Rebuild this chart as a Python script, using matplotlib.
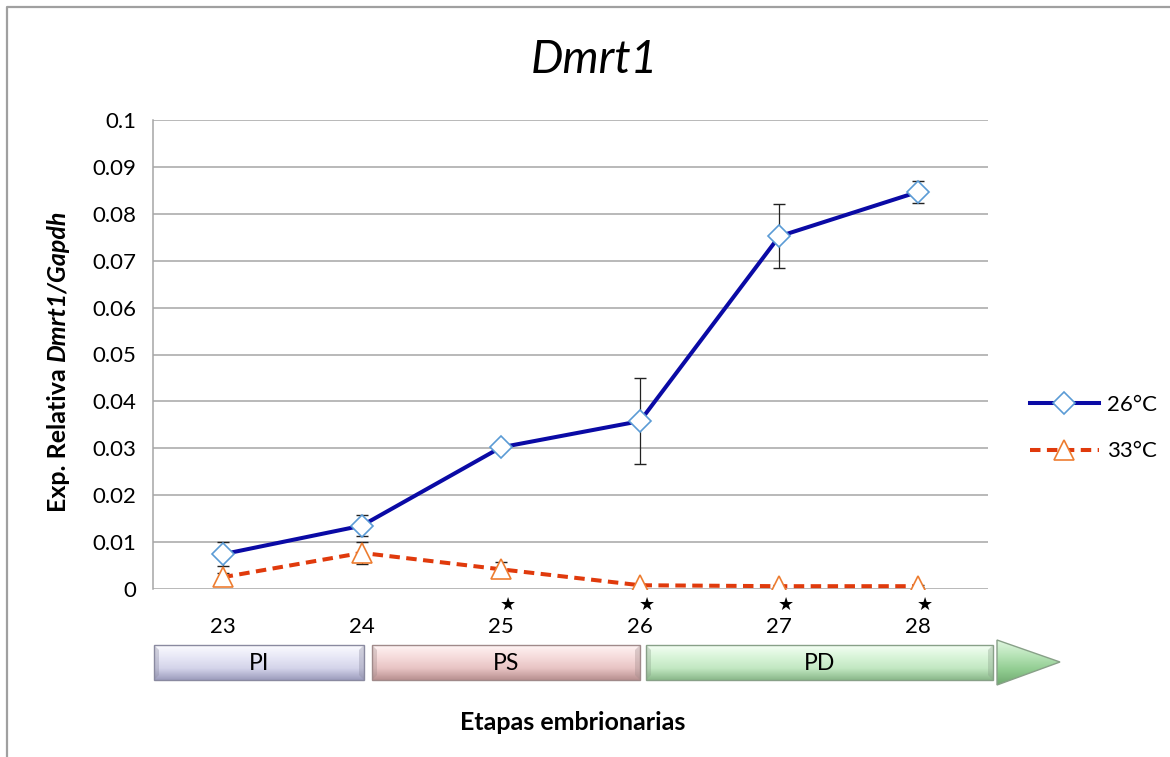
import numpy as np
import matplotlib
matplotlib.use('Agg')
import matplotlib.pyplot as plt
from matplotlib.patches import Polygon, Rectangle
from matplotlib.colors import LinearSegmentedColormap
from matplotlib.lines import Line2D
import matplotlib.transforms as mtransforms

plt.rcParams['font.family'] = ['Lato', 'DejaVu Sans']

# expression data (relative to Gapdh) per embryonic stage
stages = ['23', '24', '25', '26', '27', '28']
exp_26 = [0.0074, 0.0135, 0.0302, 0.0358, 0.0752, 0.0847]
err_26 = [0.0026, 0.0023, 0.0004, 0.0092, 0.0068, 0.0024]
exp_33 = [0.0025, 0.0077, 0.0042, 0.0008, 0.0006, 0.0006]
err_33 = [0.0009, 0.0023, 0.0016, 0.0003, 0.0002, 0.0002]
signif = [False, False, True, True, True, True]

# developmental periods shown under the axis
periods = ['PI', 'PS', 'PD']

W, H = 1170, 757
fig = plt.figure(figsize=(W / 100, H / 100), dpi=100)
ax = fig.add_axes([153 / W, 1 - 589 / H, (988 - 153) / W, (589 - 120) / H])

x = np.arange(len(stages))

ax.errorbar(x, exp_26, yerr=err_26, fmt='none', ecolor='#222222',
            elinewidth=0.9, capsize=4.5, capthick=1.0, zorder=2)
ax.errorbar(x, exp_33, yerr=err_33, fmt='none', ecolor='#222222',
            elinewidth=0.9, capsize=4.5, capthick=1.0, zorder=2)

ax.plot(x, exp_26, color='#0a0aa5', lw=2.9, zorder=3)
ax.plot(x, exp_33, color='#e03a0c', lw=2.9, ls=(0, (2.6, 1.6)), zorder=3)
ax.plot(x, exp_26, ls='none', marker='D', ms=11, mfc='white',
        mec='#5b9bd5', mew=1.2, zorder=4)
ax.plot(x, exp_33, ls='none', marker='^', ms=15, mfc='white',
        mec='#ed7d31', mew=1.2, zorder=4)

ax.set_xlim(-0.5, len(stages) - 0.5)
ax.set_ylim(0, 0.1)
ax.set_yticks(np.arange(0, 0.1001, 0.01))
ax.set_yticklabels(['0'] + ['%g' % v for v in np.arange(0.01, 0.1001, 0.01).round(2)])
ax.set_xticks(x)
ax.set_xticklabels(stages)
ax.tick_params(axis='both', length=0, labelsize=16, colors='black')
ax.tick_params(axis='x', pad=20)
ax.tick_params(axis='y', pad=12)
ax.yaxis.grid(True, color='#a6a6a6', lw=1.1)
ax.set_axisbelow(True)
for s in ['top', 'right', 'bottom']:
    ax.spines[s].set_visible(False)
ax.spines['left'].set_color('#a6a6a6')
ax.spines['left'].set_linewidth(1.1)

# significance marks below the axis
trans = mtransforms.blended_transform_factory(ax.transData, ax.transAxes)
for xi, s in zip(x, signif):
    if s:
        ax.text(xi + 0.05, -0.033, '\u2605', transform=trans, ha='center',
                va='center', fontsize=13, family=['DejaVu Sans'])

fig.text(594 / W, 1 - 60 / H, 'Dmrt1', fontsize=33, style='italic',
         ha='center', va='center')

legend_handles = [
    Line2D([], [], color='#0a0aa5', lw=2.9, marker='D', ms=11, mfc='white',
           mec='#5b9bd5', mew=1.2),
    Line2D([], [], color='#e03a0c', lw=2.9, ls=(0, (2.6, 1.6)), marker='^',
           ms=15, mfc='white', mec='#ed7d31', mew=1.2),
]
fig.legend(legend_handles, ['26°C', '33°C'], loc='center left',
           bbox_to_anchor=(1010 / W, 1 - 428 / H), frameon=False, fontsize=16,
           handlelength=3.1, labelspacing=1.2, handletextpad=0.35)

# y label: regular part plus italic gene names
yl1 = fig.text(58 / W, 1 - 512 / H, 'Exp. Relativa ', rotation=90,
               ha='center', va='bottom', fontsize=18, fontweight='bold')
fig.canvas.draw()
ax.annotate('Dmrt1/Gapdh', xy=(0.5, 1), xycoords=yl1, rotation=90,
            ha='center', va='bottom', fontsize=18, fontweight='bold',
            style='italic', annotation_clip=False)

fig.text(573 / W, 1 - 722 / H, 'Etapas embrionarias', ha='center',
         va='center', fontsize=18, fontweight='bold')

# overlay in pixel coordinates for the frame and the stage arrow
ov = fig.add_axes([0, 0, 1, 1], zorder=5)
ov.set_xlim(0, W)
ov.set_ylim(H, 0)
ov.axis('off')
ov.patch.set_alpha(0)

ov.plot([7, 7, W], [H, 7, 7], color='#a0a0a0', lw=1.6)


def shaded(patch, colors, y0, y1, x0, x1, edge):
    patch.set_facecolor('none')
    patch.set_edgecolor(edge)
    patch.set_linewidth(1.0)
    patch.set_zorder(3)
    ov.add_patch(patch)
    cmap = LinearSegmentedColormap.from_list('bar', colors)
    grad = np.linspace(0, 1, 128).reshape(-1, 1)
    im = ov.imshow(grad, cmap=cmap, extent=(x0, x1, y1, y0), aspect='auto',
                   interpolation='bilinear', zorder=2)
    im.set_clip_path(patch)


boxes = [
    (154, 364, ['#fbfbff', '#e8e8f6', '#d4d4ea', '#9c9cbc'], '#8a8aa0'),
    (372, 640, ['#fff4f4', '#f6dcdc', '#e8c4c4', '#b89090'], '#a08a8a'),
    (646, 993, ['#f4fff4', '#d9f4d9', '#c2e8c2', '#8ab88a'], '#88a088'),
]
y_top, y_bot = 645, 680
for (x0, x1, cols, edge), name in zip(boxes, periods):
    shaded(Rectangle((x0, y_top), x1 - x0, y_bot - y_top), cols,
           y_top, y_bot, x0, x1, edge)
    # bevel on the short ends
    for xe, d in [(x0, 5), (x1, -5)]:
        ov.add_patch(Polygon([(xe, y_top), (xe + d, y_top + 5),
                              (xe + d, y_bot - 5), (xe, y_bot)],
                             closed=True, facecolor=edge, alpha=0.35,
                             edgecolor='none', zorder=4))
    ov.text((x0 + x1) / 2, (y_top + y_bot) / 2 + 1, name, ha='center',
            va='center', fontsize=16.5, zorder=5)

head = Polygon([(997, 640), (1060, 662), (997, 685)], closed=True)
shaded(head, ['#e0f6e0', '#b8e4b8', '#90cc90', '#6fa86f'], 640, 685, 997,
       1060, '#88a088')
ov.set_xlim(0, W)
ov.set_ylim(H, 0)

fig.savefig('out.png', dpi=100)
